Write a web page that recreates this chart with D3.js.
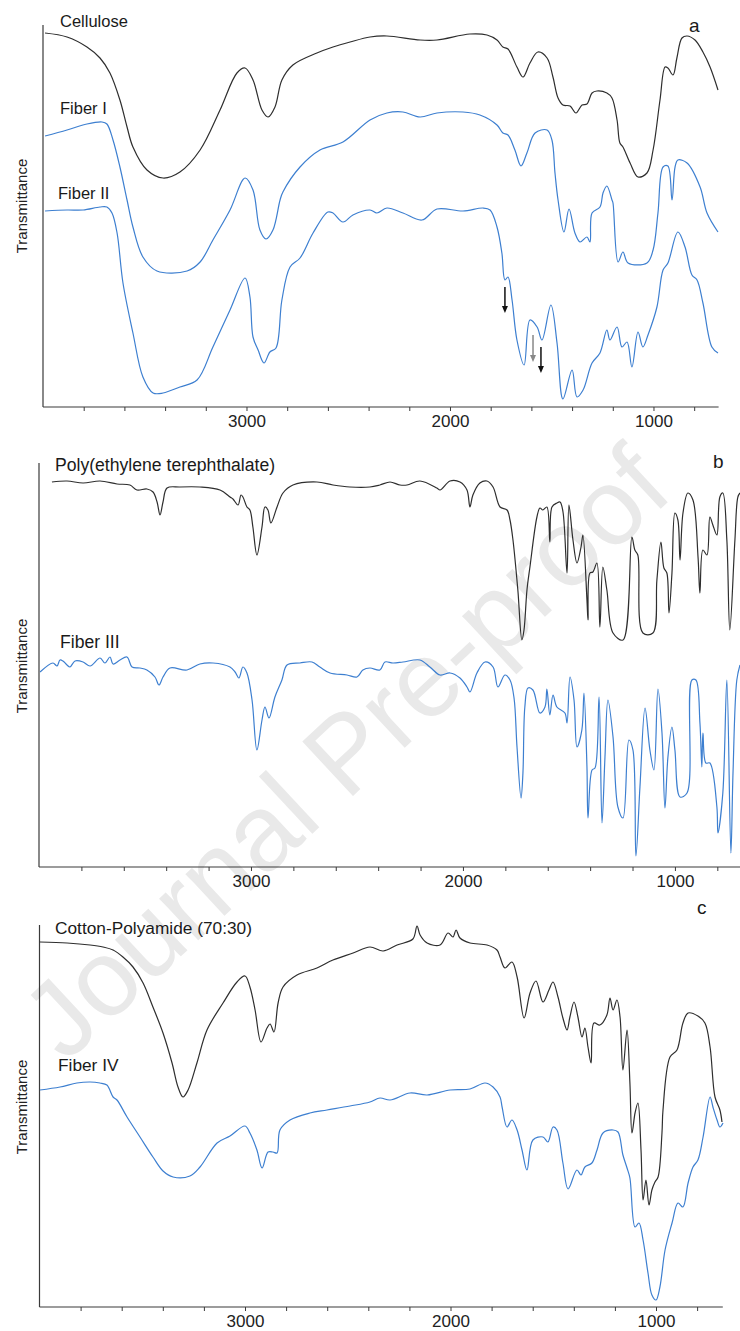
<!DOCTYPE html>
<html><head><meta charset="utf-8">
<script src="https://cdn.jsdelivr.net/npm/d3@7"></script>
<style>
body{margin:0;background:#fff}
svg{display:block}
text{font-family:"Liberation Sans",Arial,sans-serif}
</style>
</head><body>
<svg id="chart" width="740" height="1331"></svg>
<script>
// ---- DATA: [wavenumber (cm-1), relative transmittance (a.u.)] ----
const tickLabels = [3000, 2000, 1000];
const minorTickValues = d3.range(3800, 700, -200);
const panelLetters = ["a", "b", "c"];
const yAxisTitle = "Transmittance";
const watermark = "Journal Pre-proof";

const cellulose = [[3990,374],[3882,370],[3784,360],[3720,349],[3671,334],[3622,307],[3587,280],[3558,260],[3489,237],[3410,229],[3327,235],[3228,257],[3130,297],[3047,334],[3007,339],[2968,327],[2924,297],[2894,290],[2860,300],[2826,327],[2772,342],[2654,354],[2575,360],[2491,365],[2393,370],[2310,371],[2147,367],[2064,367],[1902,373],[1818,372],[1769,367],[1740,360],[1715,358],[1671,340],[1641,330],[1607,344],[1568,355],[1523,349],[1494,330],[1469,309],[1445,302],[1410,301],[1381,294],[1351,302],[1327,303],[1302,314],[1278,316],[1229,314],[1204,309],[1179,287],[1165,264],[1150,260],[1115,244],[1076,230],[1032,234],[1002,257],[968,307],[943,340],[929,339],[904,332],[885,349],[860,369],[835,371],[796,367],[757,355],[722,340],[683,317]];

const fiberI = [[3990,271],[3882,277],[3784,283],[3710,285],[3686,283],[3656,267],[3622,240],[3587,207],[3558,180],[3509,150],[3440,136],[3292,136],[3228,145],[3165,167],[3081,197],[3007,229],[2968,217],[2934,177],[2904,168],[2870,177],[2835,207],[2821,215],[2737,240],[2639,257],[2526,265],[2393,287],[2310,294],[2231,295],[2147,290],[2064,294],[1936,295],[1853,292],[1769,282],[1740,274],[1715,272],[1681,257],[1651,241],[1622,254],[1582,274],[1523,277],[1499,267],[1484,234],[1469,207],[1440,175],[1415,198],[1386,174],[1361,165],[1327,170],[1312,165],[1302,194],[1263,200],[1248,214],[1229,221],[1204,207],[1199,204],[1174,145],[1150,155],[1125,144],[1032,144],[1002,157],[978,194],[953,240],[929,241],[909,207],[894,240],[880,247],[835,244],[771,220],[737,194],[683,175]];

const fiberII = [[3990,196],[3882,197],[3803,197],[3720,200],[3686,200],[3661,194],[3636,174],[3607,124],[3558,74],[3509,30],[3459,14],[3410,14],[3327,20],[3243,27],[3165,60],[3081,97],[3007,129],[2983,110],[2968,70],[2943,57],[2914,44],[2885,55],[2855,59],[2826,107],[2786,140],[2737,149],[2673,174],[2600,195],[2575,194],[2526,185],[2477,192],[2393,197],[2359,194],[2310,199],[2231,194],[2138,187],[2064,198],[1936,196],[1838,199],[1803,197],[1769,180],[1745,154],[1730,127],[1715,130],[1695,107],[1671,67],[1636,42],[1607,87],[1572,80],[1548,67],[1504,102],[1474,64],[1445,8],[1400,37],[1376,10],[1346,17],[1302,44],[1263,54],[1229,77],[1214,67],[1179,80],[1155,60],[1130,65],[1106,40],[1076,75],[1052,60],[1027,72],[983,100],[953,137],[929,144],[880,175],[845,160],[811,132],[786,127],[757,104],[713,60],[683,54]];

// arrows in panel a: [wavenumber, start value, end value]
const arrowsA = [[1730,120,94],[1592,72,45],[1553,60,34]];

const pet = [[3939,385],[3868,386],[3792,384],[3712,386],[3632,383],[3571,382],[3538,377],[3491,378],[3462,375],[3443,365],[3429,352],[3415,365],[3396,379],[3335,380],[3241,380],[3146,377],[3099,370],[3085,368],[3061,362],[3047,372],[3038,370],[3019,360],[3005,357],[2991,340],[2972,312],[2948,340],[2934,360],[2920,357],[2906,344],[2877,360],[2849,374],[2802,382],[2689,385],[2613,382],[2533,380],[2439,380],[2392,382],[2344,385],[2297,382],[2264,382],[2203,386],[2123,379],[2108,377],[2061,386],[2014,385],[1981,377],[1967,360],[1953,372],[1920,384],[1887,386],[1858,380],[1825,360],[1792,357],[1778,347],[1764,327],[1741,277],[1722,227],[1712,237],[1698,277],[1684,300],[1651,350],[1637,359],[1623,357],[1604,360],[1590,325],[1580,360],[1557,364],[1542,365],[1528,355],[1509,294],[1500,362],[1481,327],[1462,304],[1443,320],[1434,332],[1415,267],[1410,247],[1401,294],[1387,295],[1368,304],[1354,240],[1340,300],[1321,277],[1292,234],[1245,227],[1203,330],[1189,317],[1175,312],[1151,234],[1104,234],[1085,287],[1066,325],[1052,299],[1038,294],[1028,254],[1014,294],[1000,354],[986,347],[976,307],[962,354],[939,374],[915,367],[891,310],[882,274],[868,317],[849,312],[835,350],[821,342],[802,332],[788,370],[774,374],[755,327],[741,237],[717,327],[703,370],[693,374]];

const fiberIII = [[3995,195],[3934,204],[3915,201],[3901,207],[3887,206],[3868,202],[3854,200],[3830,206],[3792,205],[3759,201],[3712,209],[3689,204],[3665,210],[3651,203],[3618,207],[3585,210],[3561,200],[3524,199],[3491,197],[3453,190],[3434,182],[3415,190],[3382,199],[3302,197],[3241,203],[3179,204],[3099,200],[3075,195],[3057,189],[3038,200],[3019,194],[2995,167],[2972,117],[2948,147],[2934,160],[2915,149],[2887,170],[2854,187],[2830,202],[2769,204],[2712,205],[2675,200],[2627,194],[2547,192],[2500,190],[2472,197],[2439,199],[2392,197],[2368,205],[2330,204],[2283,205],[2203,207],[2156,200],[2108,192],[2061,194],[2014,189],[1981,180],[1967,175],[1934,194],[1896,205],[1858,200],[1835,180],[1802,192],[1778,187],[1759,169],[1745,120],[1726,69],[1717,94],[1708,160],[1693,179],[1670,177],[1637,154],[1613,160],[1604,178],[1590,152],[1575,172],[1557,160],[1519,154],[1509,144],[1495,190],[1476,167],[1462,120],[1439,137],[1429,174],[1415,100],[1410,49],[1391,97],[1377,99],[1358,170],[1344,44],[1330,110],[1316,167],[1292,130],[1269,60],[1245,49],[1217,127],[1198,117],[1184,11],[1165,80],[1141,159],[1118,117],[1099,97],[1080,178],[1061,134],[1047,59],[1033,110],[1014,140],[1000,117],[976,70],[943,74],[920,187],[901,187],[882,144],[873,100],[868,134],[854,104],[835,104],[802,60],[797,34],[774,74],[755,187],[736,14],[726,94],[708,187],[693,202]];

const cottonPA = [[3998,365],[3866,364],[3754,362],[3691,360],[3642,357],[3594,350],[3545,340],[3496,324],[3448,300],[3399,274],[3355,244],[3326,220],[3302,210],[3277,217],[3234,244],[3185,277],[3107,304],[3039,325],[3000,331],[2976,320],[2951,297],[2922,265],[2893,279],[2878,283],[2859,275],[2839,304],[2815,320],[2747,332],[2650,339],[2572,347],[2474,354],[2392,360],[2328,356],[2260,362],[2183,368],[2163,381],[2148,372],[2114,364],[2051,362],[2012,374],[1988,370],[1973,377],[1954,369],[1905,364],[1822,362],[1774,357],[1759,350],[1735,339],[1701,345],[1676,330],[1642,289],[1613,314],[1584,326],[1550,305],[1521,317],[1501,325],[1477,310],[1453,289],[1433,277],[1419,290],[1399,305],[1380,290],[1360,270],[1346,279],[1331,260],[1316,244],[1302,284],[1273,282],[1239,292],[1224,309],[1209,297],[1190,307],[1175,290],[1161,237],[1141,277],[1127,224],[1117,174],[1102,194],[1088,204],[1073,157],[1063,107],[1049,127],[1034,102],[1020,117],[1005,125],[990,130],[971,174],[966,197],[932,250],[898,257],[869,284],[844,294],[796,291],[762,284],[737,260],[713,210],[689,197],[679,185]];

const fiberIV = [[3998,217],[3900,220],[3818,224],[3754,225],[3706,224],[3672,222],[3642,210],[3623,207],[3574,190],[3511,170],[3448,150],[3399,136],[3350,130],[3268,131],[3219,140],[3136,164],[3073,171],[3000,181],[2976,174],[2942,157],[2917,139],[2888,155],[2864,155],[2844,154],[2830,177],[2781,187],[2684,194],[2601,197],[2489,201],[2392,205],[2343,209],[2294,207],[2197,214],[2114,212],[2002,217],[1905,218],[1832,224],[1793,220],[1759,210],[1749,200],[1725,180],[1701,187],[1676,177],[1652,157],[1628,137],[1599,167],[1550,170],[1526,165],[1501,180],[1482,177],[1453,144],[1428,118],[1385,137],[1365,132],[1346,140],[1312,144],[1287,157],[1258,174],[1209,177],[1185,175],[1161,152],[1141,139],[1127,129],[1102,80],[1083,84],[1063,67],[1039,34],[1020,12],[1000,7],[981,20],[956,57],[922,84],[893,104],[869,100],[844,124],[820,140],[796,147],[771,170],[737,210],[723,200],[703,187],[689,180],[674,184]];

// ---- LAYOUT ----
const svg = d3.select("#chart");
const BLACK = "#2e2e2e", BLUE = "#3d7fd0", AXIS = "#3a3a3a";

// watermark
svg.append("text")
  .attr("transform", "translate(345,752) rotate(-43)")
  .attr("text-anchor", "middle").attr("dominant-baseline", "central")
  .attr("font-size", 108).attr("fill", "#e9e9e9")
  .text(watermark);

const panels = [
  {left:43, right:718.6, top:25, bottom:407, xDom:[4000,680], yMax:382, titleY:206, fs:16.5,
   series:[{d:cellulose,c:BLACK,name:"Cellulose",lx:60,ly:27},{d:fiberI,c:BLUE,name:"Fiber I",lx:60,ly:114},{d:fiberII,c:BLUE,name:"Fiber II",lx:58,ly:199}],
   letter:{x:689,y:32}},
  {left:39, right:740, top:463, bottom:867, xDom:[4000,693], yMax:404, titleY:666, fs:17.6,
   series:[{d:pet,c:BLACK,name:"Poly(ethylene terephthalate)",lx:55,ly:471},{d:fiberIII,c:BLUE,name:"Fiber III",lx:60,ly:648}],
   letter:{x:713,y:468}},
  {left:39.5, right:722.8, top:925, bottom:1307, xDom:[4000,675], yMax:382, titleY:1107, fs:17.3,
   series:[{d:cottonPA,c:BLACK,name:"Cotton-Polyamide (70:30)",lx:55,ly:934},{d:fiberIV,c:BLUE,name:"Fiber IV",lx:58,ly:1071}],
   letter:{x:697,y:914}}
];

panels.forEach((p, i) => {
  const x = d3.scaleLinear().domain(p.xDom).range([p.left, p.right]);
  const y = d3.scaleLinear().domain([0, p.yMax]).range([p.bottom, p.top]);
  const g = svg.append("g");

  // axes lines
  g.append("line").attr("x1", p.left).attr("x2", p.left).attr("y1", p.top).attr("y2", p.bottom)
    .attr("stroke", AXIS).attr("stroke-width", 1.2);
  const xAxis = d3.axisBottom(x).tickValues(minorTickValues).tickSize(4)
    .tickFormat(d => tickLabels.includes(d) ? d : "");
  const ax = g.append("g").attr("transform", `translate(0,${p.bottom})`).call(xAxis);
  ax.select(".domain").attr("stroke", AXIS).attr("stroke-width", 1.2)
    .attr("d", `M${p.left},0H${p.right}`);
  ax.selectAll(".tick line").attr("stroke", AXIS).attr("stroke-width", 1);
  ax.selectAll(".tick text").attr("font-size", 17).attr("fill", "#222")
    .attr("font-family", '"Liberation Sans",Arial,sans-serif').attr("y", 8).attr("dy", "0.71em");

  // y title
  g.append("text").attr("transform", `translate(21,${p.titleY}) rotate(-90)`)
    .attr("text-anchor", "middle").attr("dominant-baseline", "central")
    .attr("font-size", 15).attr("fill", "#222").text(yAxisTitle);

  const line = d3.line().x(d => x(d[0])).y(d => y(d[1])).curve(d3.curveCatmullRom.alpha(0.5));
  p.series.forEach(s => {
    g.append("path").datum(s.d).attr("d", line).attr("fill", "none")
      .attr("stroke", s.c).attr("stroke-width", 1.2).attr("stroke-linejoin", "round");
    g.append("text").attr("x", s.lx).attr("y", s.ly).attr("font-size", p.fs)
      .attr("fill", "#1a1a1a").text(s.name);
  });
  g.append("text").attr("x", p.letter.x).attr("y", p.letter.y).attr("font-size", 19)
    .attr("fill", "#1a1a1a").text(panelLetters[i]);

  if (i === 0) {
    arrowsA.forEach((a, k) => {
      const col = k === 1 ? "#888" : "#111";
      g.append("line").attr("x1", x(a[0])).attr("x2", x(a[0]))
        .attr("y1", y(a[1])).attr("y2", y(a[2]) - 5)
        .attr("stroke", col).attr("stroke-width", 1.5);
      g.append("path")
        .attr("d", `M${x(a[0]) - 3},${y(a[2]) - 7}L${x(a[0])},${y(a[2])}L${x(a[0]) + 3},${y(a[2]) - 7}Z`)
        .attr("fill", col);
    });
  }
});
</script>
</body></html>
